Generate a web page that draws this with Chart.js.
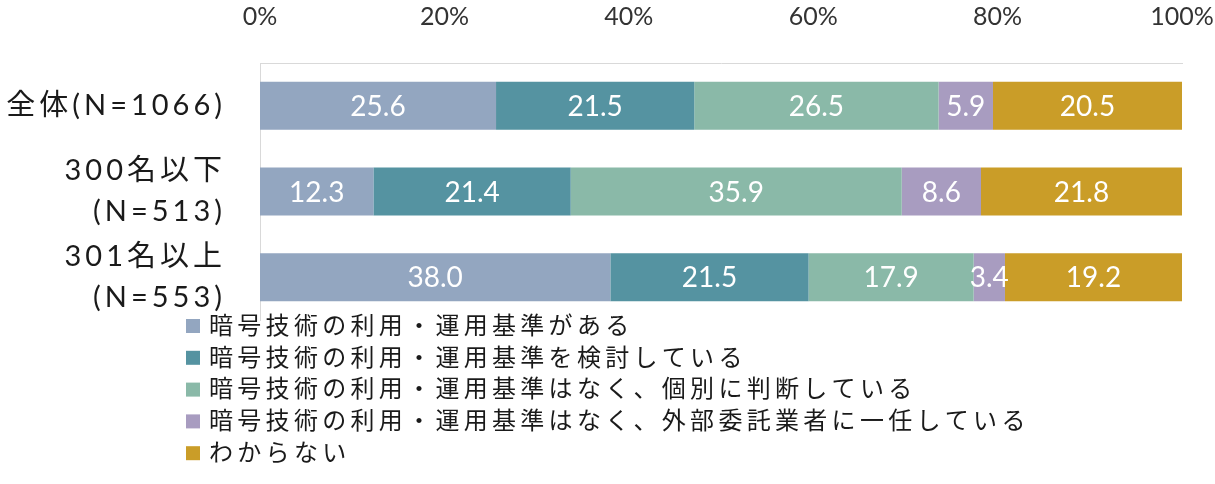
<!DOCTYPE html>
<html>
<head>
<meta charset="utf-8">
<script src="https://cdn.jsdelivr.net/npm/chart.js@4"></script>
<style>
  body { margin: 0; background: #fff; }
  #wrap { width: 1215px; height: 484px; }
</style>
</head>
<body>
<div id="wrap"><canvas id="myChart"></canvas></div>
<script>
const categories = [['全体(N=1066)'], ['300名以下', '(N=513)'], ['301名以上', '(N=553)']];
const seriesNames = [
    '暗号技術の利用・運用基準がある',
    '暗号技術の利用・運用基準を検討している',
    '暗号技術の利用・運用基準はなく、個別に判断している',
    '暗号技術の利用・運用基準はなく、外部委託業者に一任している',
    'わからない',
];
const haveRule = [25.6, 12.3, 38.0];
const considering = [21.5, 21.4, 21.5];
const caseByCase = [26.5, 35.9, 17.9];
const outsourced = [5.9, 8.6, 3.4];
const unknown = [20.5, 21.8, 19.2];
const tickValues = [0, 20, 40, 60, 80, 100];

const colors = ['#93a6c0', '#5593a1', '#8ab9a8', '#a89cc0', '#ca9d28'];
const fontFamily = 'Lato, "Noto Sans CJK JP", sans-serif';

Chart.defaults.font.family = fontFamily;

// values in the middle of every segment
const barLabels = {
    id: 'barLabels',
    afterDatasetsDraw(chart) {
        const ctx = chart.ctx;
        ctx.save();
        ctx.font = '28px ' + fontFamily;
        ctx.fillStyle = '#ffffff';
        ctx.textAlign = 'center';
        ctx.textBaseline = 'middle';
        chart.data.datasets.forEach((ds, i) => {
            chart.getDatasetMeta(i).data.forEach((bar, j) => {
                ctx.fillText(ds.data[j].toFixed(1), (bar.x + bar.base) / 2, bar.y + 1);
            });
        });
        ctx.restore();
    }
};

// category names, spaced out like the original
const catLabels = {
    id: 'catLabels',
    afterDraw(chart) {
        const ctx = chart.ctx;
        const yScale = chart.scales.y;
        ctx.save();
        ctx.font = '29px ' + fontFamily;
        ctx.fillStyle = '#1a1a1a';
        ctx.textAlign = 'right';
        ctx.textBaseline = 'middle';
        ctx.letterSpacing = '4px';
        chart.data.labels.forEach((lines, i) => {
            const cy = yScale.getPixelForValue(i);
            const lh = 41;
            const top = cy - (lines.length - 1) * lh / 2;
            lines.forEach((t, k) => {
                ctx.fillText(t, 226, top + k * lh);
            });
        });
        ctx.restore();
    }
};

// legend as a single column below the bars
const columnLegend = {
    id: 'columnLegend',
    afterDraw(chart) {
        const ctx = chart.ctx;
        ctx.save();
        ctx.font = '24px ' + fontFamily;
        ctx.textAlign = 'left';
        ctx.textBaseline = 'middle';
        ctx.letterSpacing = '4.3px';
        chart.data.datasets.forEach((ds, i) => {
            const y = 326 + i * 31.8;
            ctx.fillStyle = ds.backgroundColor;
            ctx.fillRect(186, y - 7, 14, 14);
            ctx.fillStyle = '#1a1a1a';
            ctx.fillText(ds.label, 209, y);
        });
        ctx.restore();
    }
};

const series = [haveRule, considering, caseByCase, outsourced, unknown];

const ctx = document.getElementById('myChart').getContext('2d');

const myChart = new Chart(ctx, {
    type: 'bar',
    data: {
        labels: categories,
        datasets: series.map((d, i) => ({
            label: seriesNames[i],
            data: d,
            backgroundColor: colors[i],
            borderWidth: 0,
            barPercentage: 0.56,
            categoryPercentage: 1,
        }))
    },
    options: {
        indexAxis: 'y',
        responsive: true,
        maintainAspectRatio: false,
        animation: false,
        layout: {
            padding: { left: 0, right: 33, top: 3, bottom: 164 }
        },
        plugins: {
            legend: { display: false },
            tooltip: { enabled: false }
        },
        scales: {
            x: {
                position: 'top',
                stacked: true,
                min: 0,
                max: 100,
                afterBuildTicks(scale) {
                    scale.ticks = tickValues.map(v => ({ value: v }));
                },
                afterFit(scale) {
                    scale.height = 60;
                    scale.paddingLeft = 0;
                    scale.paddingRight = 0;
                },
                ticks: {
                    color: '#333333',
                    font: { size: 25 },
                    padding: 23,
                    callback: v => v + '%'
                },
                grid: { display: false },
                border: { display: true, color: '#d9d9d9', width: 1 }
            },
            y: {
                stacked: true,
                ticks: { display: false },
                grid: { display: false },
                border: { display: true, color: '#d9d9d9', width: 1 },
                afterFit(scale) {
                    scale.width = 260;
                }
            }
        }
    },
    plugins: [barLabels, catLabels, columnLegend]
});
</script>
</body>
</html>
